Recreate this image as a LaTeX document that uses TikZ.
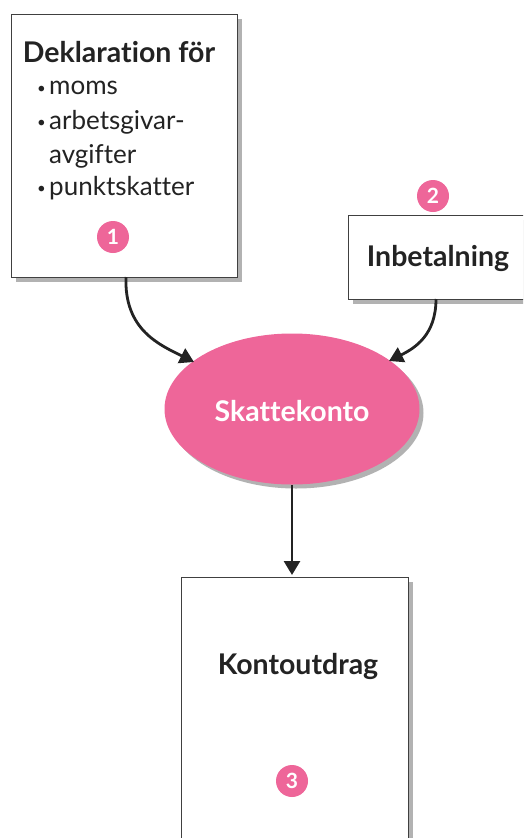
\documentclass[tikz,border=0pt]{standalone}
\usepackage{fontspec}
\setmainfont{Lato}[Ligatures=NoCommon]
\usetikzlibrary{shadows,arrows.meta,shapes.geometric}
\definecolor{pinkc}{RGB}{238,102,153}
\definecolor{txt}{RGB}{35,35,35}
\newcommand{\smbul}{\makebox[12pt][l]{\raisebox{1.5pt}{\fontsize{15}{15}\selectfont\textbullet}}}
\tikzset{
  card/.style={draw=black!75, line width=1pt, fill=white, drop shadow={shadow xshift=4pt, shadow yshift=-4pt, opacity=0.5, fill=black!60}},
  numdot/.style={circle, fill=pinkc, text=white, inner sep=0pt, minimum size=32pt, font=\fontsize{21}{21}\selectfont\bfseries},
  conn/.style={draw=txt, line width=2.8pt, -{Triangle[length=14pt,width=16pt]}},
  bl/.style={anchor=west, inner sep=0pt, text=txt, font=\fontsize{26}{26}\selectfont},
  ttl/.style={text=txt, inner sep=0pt, font=\fontsize{28.5}{28.5}\selectfont\bfseries},
}
\begin{document}
\begin{tikzpicture}[x=1pt,y=-1pt]
\useasboundingbox (0,0) rectangle (523,838);
\clip (0,0) rectangle (523,838);
% boxes
\node[card, minimum width=226pt, minimum height=263pt, anchor=north west, inner sep=0pt] (decl) at (11,14) {};
\node[card, minimum width=200pt, minimum height=84pt, anchor=north west, inner sep=0pt] (inb) at (348,215) {};
\node[card, minimum width=227pt, minimum height=300pt, anchor=north west, inner sep=0pt] (kont) at (181,577) {};
\node[ellipse, fill=pinkc, minimum width=255pt, minimum height=151pt, inner sep=0pt,
  drop shadow={shadow xshift=4pt, shadow yshift=-4pt, opacity=0.5, fill=black!60}] (sk) at (292,409) {};
% texts
\node[ttl] (dt) at (119,52) {Deklaration för};
\node[bl] (b1) at (37,88) {\smbul moms};
\node[bl] (b2) at (37,122) {\smbul arbetsgivar-};
\node[bl] (b2b) at (49,156) {avgifter};
\node[bl] (b3) at (37,188) {\smbul punktskatter};
\node[ttl] (it) at (438,258) {Inbetalning};
\node[ttl, text=white] (st) at (292,411) {Skattekonto};
\node[ttl] (kt) at (298,666) {Kontoutdrag};
% numbers
\node[numdot] (n1) at (113,237) {1};
\node[numdot] (n2) at (433,196) {2};
\node[numdot] (n3) at (292,781) {3};
% connectors
\coordinate (a1s) at (126,277);
\coordinate (a1e) at (194,362);
\coordinate (a2s) at (436,299);
\coordinate (a2e) at (389,361);
\coordinate (a3s) at (292,485);
\coordinate (a3e) at (292,575);
\draw[conn] (a1s) .. controls (124,330) and (160,345) .. (a1e);
\draw[conn] (a2s) .. controls (436,335) and (415,348) .. (a2e);
\draw[conn] (a3s) -- (a3e);
\end{tikzpicture}
\end{document}
